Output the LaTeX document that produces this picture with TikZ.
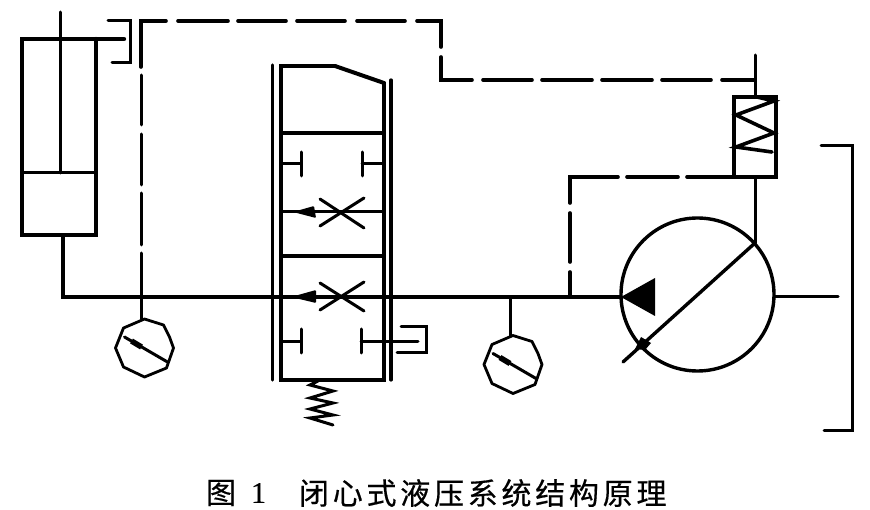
\documentclass[tikz,border=0pt]{standalone}
\usepackage{fontspec}
\newfontfamily\cjk{Noto Sans CJK SC}[LetterSpace=12.5,FakeBold=0.5]
\newfontfamily\cjkb{Liberation Serif}[FakeBold=0.4]
\tikzset{
  x=1pt,y=-1pt,
  thin line/.style={line width=2.2pt,line cap=round,line join=miter},
  med line/.style={line width=3pt,line cap=round,line join=miter},
  thick line/.style={line width=4pt,line cap=round,line join=miter},
  pdash/.style={line width=3.6pt,line cap=round,line join=miter},
  gauge/.style={line width=2.8pt,line join=round},
  captiontext/.style={anchor=west,inner sep=0pt,outer sep=0pt,text=black},
}
\begin{document}
\begin{tikzpicture}
\useasboundingbox (0,0) rectangle (870,510);
% cylinder
\coordinate (rodtop) at (60,12);
\coordinate (rodbot) at (60,173);
\draw[thick line,line width=4.4pt] (124,39) -- (22,39) -- (22,235) -- (96,235) -- (96,39);
\draw[med line] (22,173) -- (96,173);
\draw[med line] (rodtop) -- (rodbot);
\draw[med line] (108,21) -- (130,21) -- (130,63) -- (112,63);
% main line
\coordinate (cylport) at (63,235);
\coordinate (tjA) at (141,297);
\coordinate (tjB) at (510,297);
\coordinate (tjC) at (570,297);
\coordinate (pumpIn) at (621,297);
\draw[med line,line width=3.6pt] (cylport) -- (63,297) -- (pumpIn);
% gauges
\foreach \n/\cx/\cy in {A/144.5/348,B/513/364.5}{
  \draw[gauge] (\cx,\cy-29) -- (\cx+19,\cy-23) -- (\cx+25,\cy-11) -- (\cx+29,\cy) -- (\cx+22,\cy+20)
     -- (\cx,\cy+29) -- (\cx-21,\cy+19) -- (\cx-29,\cy) -- (\cx-21,\cy-20) -- cycle;
  \draw[med line] (\cx-20,\cy-11) -- (\cx+23,\cy+14);
  \draw[line width=5.5pt] (\cx-13,\cy-7) -- (\cx-3,\cy-1);
}
\draw[med line] (tjA) -- (141,319);
\draw[med line] (tjB) -- (510,336);
% valve
\draw[med line,line width=3.2pt] (272.5,65) -- (272.5,380);
\draw[med line,line width=3.2pt] (391,80) -- (391,380);
\draw[thick line,line width=3.6pt] (335,66) -- (281,66) -- (281,380) -- (384,380) -- (384,83);
\draw[line width=4pt,line cap=round] (335,66) -- (384,83);
\draw[thick line] (281,133) -- (384,133);
\draw[med line] (281,212) -- (384,212);
\draw[thick line] (281,256) -- (384,256);
% T ports
\draw[med line] (281,164) -- (301,164) (301,152) -- (301,176);
\draw[med line] (384,164) -- (362,164) (362,152) -- (362,176);
\draw[med line] (281,342) -- (301,342) (301,329) -- (301,353);
\draw[med line] (418,342) -- (361,342) (361,329) -- (361,353);
\draw[med line] (401,327) -- (426,327) -- (426,353) -- (397,353);
% crosses
\draw[med line] (320,199) -- (364,228) (320,226) -- (364,198);
\draw[med line] (320,283) -- (364,311) (320,310) -- (364,282);
% arrows
\fill[rounded corners=1pt] (293,212) -- (314,206) -- (316,218) -- cycle;
\fill[rounded corners=1pt] (291,297) -- (316,290) -- (316,303) -- cycle;
% spring below valve
\draw[med line] (318,381) -- (310,385) -- (333,391) -- (310,398) -- (333,403) -- (310,409) -- (333,415) -- (310,418) -- (333,425);
% pump
\coordinate (shaftTop) at (755,243);
\coordinate (tiltEnd) at (623,362);
\draw[line width=3.4pt] (697.5,294.5) circle (76.5);
\draw[med line,line width=3.4pt] (tiltEnd) -- (shaftTop);
\fill (641,337) -- (651,343) -- (645,350) -- (635,349) -- cycle;
\fill (621,297) -- (655,278) -- (655,316) -- cycle;
\draw[med line] (775,297) -- (838,297);
% control cylinder
\draw[thin line,line width=3.2pt] (734,177) -- (734,97) -- (776,97) -- (776,177) -- cycle;
\draw[med line] (755,55) -- (755,97);
\draw[med line] (755,177) -- (shaftTop);
\draw[thick line,line width=3.6pt] (757,97) -- (774,101) -- (736,115) -- (774,133) -- (736,147) -- (772,152);
\draw[thick line] (734,177) -- (776,177);
% bracket
\draw[med line] (821,146) -- (852,146) -- (852,430) -- (824,430);
% pilot dashes, upper
\draw[pdash] (141,67) -- (141,21) -- (166,21);
\draw[med line] (141,75) -- (141,125) (141,134) -- (141,185) (141,193) -- (141,245) (141,253) -- (141,297);
\draw[pdash] (178,21) -- (228,21) (238,21) -- (286,21) (297,21) -- (345,21) (357,21) -- (405,21) (417,21) -- (441,21) -- (441,47);
\draw[pdash] (441,57) -- (441,80) -- (472,80);
\draw[pdash] (483,80) -- (532,80) (542,80) -- (592,80) (602,80) -- (652,80) (662,80) -- (711,80) (722,80) -- (755,80);
% pilot dashes, lower
\draw[pdash] (570,297) -- (570,272) (570,262) -- (570,213) (570,203) -- (570,177) -- (618,177);
\draw[pdash] (627,177) -- (678,177) (687,177) -- (734,177);
% caption
\node[captiontext,font=\cjk\fontsize{30}{30}\selectfont] (capA) at (206,493) {图};
\node[captiontext,font=\cjkb\fontsize{30}{30}\selectfont] (capB) at (251,493) {1};
\node[captiontext,font=\cjk\fontsize{30}{30}\selectfont] (capC) at (299,493) {闭心式液压系统结构原理};
\end{tikzpicture}
\end{document}
